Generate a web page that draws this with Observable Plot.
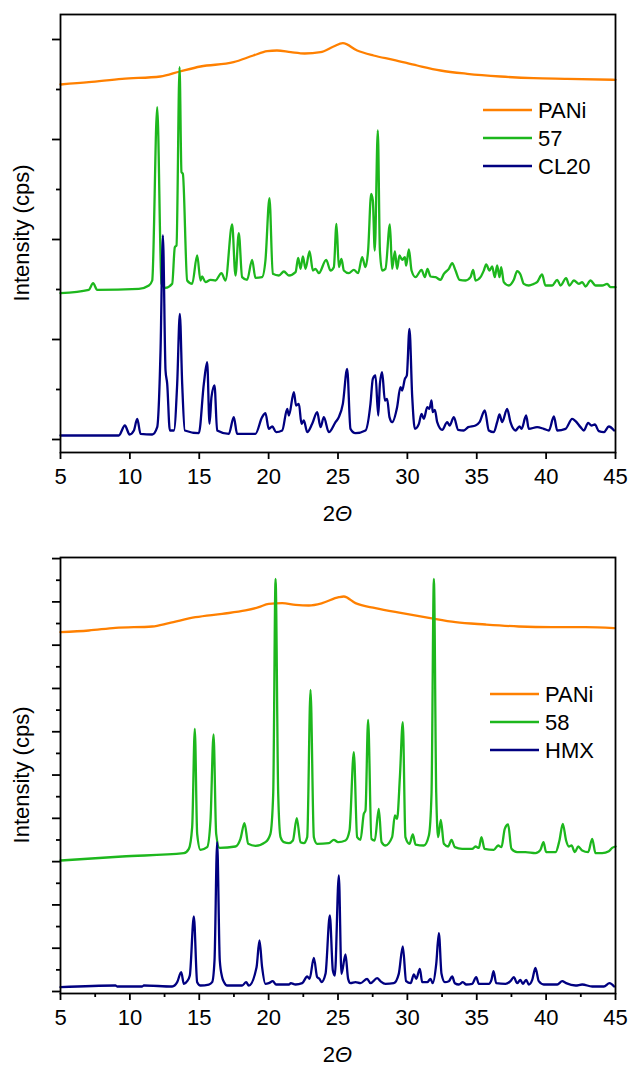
<!DOCTYPE html>
<html><head><meta charset="utf-8">
<script src="https://cdn.jsdelivr.net/npm/d3@7"></script>
<script src="https://cdn.jsdelivr.net/npm/@observablehq/plot@0.6"></script>
<style>html,body{margin:0;padding:0;background:#fff;} svg{display:block;}</style>
</head><body><div id="chart"></div>
<script>
// ---- shared axis values ----
const xTicks = [5, 10, 15, 20, 25, 30, 35, 40, 45];
const xMinorTicks2 = [7.5, 12.5, 17.5, 22.5, 27.5, 32.5, 37.5, 42.5];
const yMajor1 = [0, 2000, 4000, 6000, 8000];
const yMinor1 = [1000, 3000, 5000, 7000];
const yMajor2 = [0, 2000, 4000, 6000, 8000, 10000, 12000, 14000, 16000, 18000, 20000];
const yMinor2 = [1000, 3000, 5000, 7000, 9000, 11000, 13000, 15000, 17000, 19000];
const colors = ["#ff8000", "#1db71d", "#000080"];
const names1 = ["PANi", "57", "CL20"];
const names2 = ["PANi", "58", "HMX"];

// ---- panel 1 series: [2θ, intensity] ----
const pani1 = [[5.0,7100],[7.04,7146],[9.44,7214],[12.2,7260],[13.6,7360],[15.09,7460],[17.47,7546],[18.9,7680],[19.9,7766],[20.6,7780],[21.6,7746],[22.6,7720],[23.74,7746],[24.68,7860],[25.35,7926],[26.38,7780],[27.56,7680],[29.0,7594],[30.71,7480],[32.39,7380],[34.31,7314],[36.71,7260],[39.1,7226],[41.52,7214],[45.0,7194]];
const s57 = [[5.00,2927],[7.04,2993],[7.35,3127],[7.64,2993],[10.65,3013],[11.37,3080],[11.61,3180],[11.97,6647],[12.28,3113],[12.57,3033],[13.05,3113],[13.24,3847],[13.36,3880],[13.58,7447],[13.72,5347],[13.82,5313],[14.13,3180],[14.49,3113],[14.85,3680],[15.09,3180],[15.21,3260],[15.45,3147],[15.81,3193],[16.17,3180],[16.60,3327],[16.89,3180],[17.37,4300],[17.61,3280],[17.85,4127],[18.09,3247],[18.45,3193],[18.81,3593],[19.05,3233],[19.53,3247],[19.77,3580],[20.06,4827],[20.30,3313],[20.74,3280],[21.10,3360],[21.46,3280],[21.94,3347],[22.13,3633],[22.30,3413],[22.47,3660],[22.66,3413],[22.95,3760],[23.19,3380],[23.38,3413],[23.62,3327],[24.15,3593],[24.46,3380],[24.70,3447],[24.89,4313],[25.06,3447],[25.25,3613],[25.42,3380],[25.78,3327],[26.14,3393],[26.45,3327],[26.74,3647],[26.98,3447],[27.17,3780],[27.39,4913],[27.51,4780],[27.65,3780],[27.87,6180],[28.02,3780],[28.18,3380],[28.42,3413],[28.74,4300],[28.90,3413],[29.10,3760],[29.26,3413],[29.43,3680],[29.62,3593],[29.82,3647],[29.91,3480],[30.11,3800],[30.30,3380],[30.59,3247],[31.02,3393],[31.26,3247],[31.45,3413],[31.67,3260],[32.03,3247],[32.39,3193],[32.63,3313],[32.99,3413],[33.23,3527],[33.47,3380],[33.76,3193],[34.19,3180],[34.55,3247],[34.74,3393],[34.91,3180],[35.27,3247],[35.51,3380],[35.68,3500],[35.92,3380],[36.11,3460],[36.30,3247],[36.47,3480],[36.64,3247],[36.76,3447],[36.95,3147],[37.31,3080],[37.67,3193],[37.91,3367],[38.15,3300],[38.39,3113],[38.75,3080],[39.11,3113],[39.35,3147],[39.71,3300],[39.95,3080],[40.44,3080],[40.80,3193],[41.04,3080],[41.44,3227],[41.68,3080],[42.00,3180],[42.36,3113],[42.60,3147],[42.84,3060],[43.20,3180],[43.56,3080],[44.04,3080],[44.40,3113],[44.64,3047],[45.00,3047]];
const cl20 = [[5.00,80],[9.20,80],[9.64,280],[9.98,100],[10.29,180],[10.53,413],[10.77,113],[11.61,100],[11.97,247],[12.21,1780],[12.38,4080],[12.57,1380],[12.69,1113],[12.88,180],[13.17,180],[13.41,1113],[13.60,2513],[13.77,1113],[13.96,180],[14.97,127],[15.33,1113],[15.57,1547],[15.74,313],[15.88,847],[16.10,1080],[16.29,180],[17.13,113],[17.49,447],[17.73,113],[19.05,113],[19.53,447],[19.77,527],[20.01,213],[20.26,260],[20.54,147],[20.98,180],[21.34,613],[21.46,480],[21.82,947],[21.98,680],[22.18,713],[22.37,313],[22.54,380],[22.78,147],[23.14,313],[23.50,547],[23.74,247],[23.98,447],[24.34,147],[24.82,347],[25.06,447],[25.35,713],[25.66,1413],[25.90,213],[26.26,127],[26.98,180],[27.34,713],[27.51,1213],[27.70,1280],[27.90,480],[28.02,1113],[28.18,1347],[28.38,780],[28.54,813],[28.71,447],[28.90,347],[29.26,647],[29.50,1047],[29.62,980],[29.82,1213],[29.96,1280],[30.15,2213],[30.35,847],[30.54,213],[30.83,313],[31.02,513],[31.19,413],[31.43,647],[31.59,613],[31.74,780],[31.83,547],[31.98,593],[32.15,347],[32.51,193],[32.87,347],[33.04,280],[33.35,447],[33.66,193],[34.07,180],[34.38,247],[34.91,280],[35.20,347],[35.58,580],[35.87,180],[36.23,147],[36.47,347],[36.64,500],[36.83,347],[37.19,613],[37.43,347],[37.79,180],[38.08,260],[38.23,213],[38.56,480],[38.75,213],[39.35,247],[39.83,213],[40.20,180],[40.56,460],[40.80,180],[41.40,213],[41.88,413],[42.12,367],[42.48,247],[42.72,180],[43.03,333],[43.27,280],[43.51,300],[43.80,167],[44.16,147],[44.52,260],[44.90,180]];

// ---- panel 2 series ----
const pani2 = [[5.0,16601],[7.04,16678],[8.96,16801],[11.61,16863],[12.81,17017],[14.73,17294],[16.65,17448],[18.33,17602],[19.29,17756],[20.01,17910],[20.98,17941],[21.94,17864],[22.90,17833],[23.86,17941],[25.06,18218],[25.42,18249],[26.26,17941],[27.70,17710],[29.62,17479],[31.55,17263],[33.47,17063],[35.63,16955],[38.03,16863],[40.44,16832],[42.84,16832],[44.90,16786]];
const s58 = [[5.00,6052],[9.44,6237],[13.89,6391],[14.25,6591],[14.49,7592],[14.68,12135],[14.85,7284],[15.09,6545],[15.57,6668],[15.81,7900],[16.03,11873],[16.22,7284],[16.46,6637],[17.61,6699],[17.97,7053],[18.26,7777],[18.53,6822],[19.05,6730],[19.77,6899],[20.13,7284],[20.33,9132],[20.50,19065],[20.69,9132],[20.86,7130],[21.10,6899],[21.46,6853],[21.75,6976],[22.03,8008],[22.30,6899],[22.54,6853],[22.78,7130],[23.02,13937],[23.26,7130],[23.50,6822],[24.34,6853],[24.70,7007],[25.01,6899],[25.54,6976],[25.83,7438],[26.14,11057],[26.38,7130],[26.62,7007],[26.86,8208],[26.98,8362],[27.17,12551],[27.41,7053],[27.65,6976],[27.94,8439],[28.14,6899],[28.42,6745],[28.90,7130],[29.10,8131],[29.26,7977],[29.46,9902],[29.67,12443],[29.86,7130],[30.15,6822],[30.39,7253],[30.59,6791],[31.19,6745],[31.55,7207],[31.74,9132],[31.91,19065],[32.08,9132],[32.22,7130],[32.41,7931],[32.63,6822],[32.94,6699],[33.18,7007],[33.42,6668],[33.95,6591],[34.67,6591],[34.91,6699],[35.15,6637],[35.34,7130],[35.56,6591],[36.23,6545],[36.54,6745],[36.78,6668],[37.02,7515],[37.26,7715],[37.50,6591],[37.91,6437],[38.51,6437],[39.23,6391],[39.59,6545],[39.81,6899],[40.00,6437],[40.68,6437],[40.96,6976],[41.20,7746],[41.44,6976],[41.64,6699],[41.83,6745],[42.07,6437],[42.31,6699],[42.60,6514],[43.03,6437],[43.32,7053],[43.56,6391],[44.04,6391],[44.52,6483],[44.76,6637],[45.00,6699]];
const hmx = [[5.00,200],[8.96,277],[9.08,231],[10.89,231],[11.01,277],[13.05,231],[13.41,431],[13.70,893],[13.89,354],[14.13,477],[14.32,739],[14.61,3465],[14.85,431],[15.09,277],[15.69,323],[15.93,431],[16.10,1432],[16.29,6899],[16.48,1432],[16.65,662],[16.79,431],[17.01,277],[18.09,277],[18.38,431],[18.57,277],[19.13,1124],[19.34,2356],[19.53,1124],[19.77,354],[20.01,385],[20.30,477],[20.54,323],[21.46,323],[21.60,385],[21.94,323],[22.42,385],[22.78,693],[22.95,585],[23.26,1555],[23.50,662],[23.67,585],[23.81,431],[24.10,816],[24.41,3511],[24.63,970],[24.77,739],[25.06,5359],[25.25,816],[25.54,1709],[25.73,585],[25.90,385],[26.26,431],[26.62,385],[27.10,585],[27.34,385],[27.82,616],[28.06,477],[28.42,354],[29.02,385],[29.38,816],[29.67,2079],[29.91,477],[30.23,385],[30.47,785],[30.64,585],[30.90,1047],[31.07,431],[31.43,431],[31.67,585],[31.83,385],[32.08,1278],[32.27,2695],[32.46,816],[32.70,431],[32.99,477],[33.23,693],[33.42,385],[33.71,323],[34.00,431],[34.24,323],[34.67,354],[34.96,662],[35.15,354],[35.87,354],[36.06,539],[36.21,939],[36.40,385],[37.07,354],[37.43,477],[37.67,662],[37.91,385],[38.15,539],[38.32,354],[38.56,539],[38.75,323],[39.00,539],[39.23,1093],[39.47,477],[39.83,323],[40.80,323],[41.16,477],[41.44,385],[42.12,277],[42.60,323],[43.32,231],[44.16,231],[44.57,385],[44.90,231]];

const FONT = "'Liberation Sans', Arial, Helvetica, sans-serif";

function panel(o) {
  const marks = [
    Plot.axisY(o.yMajor, {tickSize: 8, tickFormat: () => "", label: null, strokeWidth: 1.8}),
    Plot.axisY(o.yMinor, {tickSize: 4, tickFormat: () => "", label: null, strokeWidth: 1.8}),
    Plot.axisX(xTicks, {tickSize: 7, tickPadding: 9, label: null, strokeWidth: 1.8})
  ];
  if (o.xMinor) marks.push(Plot.axisX(o.xMinor, {tickSize: 4, tickFormat: () => "", label: null, strokeWidth: 1.8}));
  o.series.forEach((s, i) => marks.push(Plot.line(s, {
    x: d => d[0], y: d => d[1], stroke: colors[i], strokeWidth: 2.3,
    curve: "monotone-x", strokeLinejoin: "round"
  })));
  marks.push(Plot.frame({stroke: "black", strokeWidth: 1.8}));
  const svg = Plot.plot({
    width: 630, height: o.height,
    marginTop: o.marginTop, marginBottom: o.marginBottom, marginLeft: 60, marginRight: 15,
    x: {domain: [5, 45]}, y: {domain: o.yDomain},
    style: {fontFamily: FONT, fontSize: "22px", color: "black", background: "white", overflow: "visible"},
    marks
  });
  const root = d3.select(svg);
  const fTop = o.marginTop, fBot = o.height - o.marginBottom;
  // y label
  root.append("text")
    .attr("transform", `translate(29,${(fTop + fBot) / 2}) rotate(-90)`)
    .attr("text-anchor", "middle").attr("font-family", FONT).attr("font-size", 22).attr("fill", "black")
    .text("Intensity (cps)");
  // x label 2Θ
  const xl = root.append("text")
    .attr("x", (60 + 615) / 2).attr("y", fBot + 69)
    .attr("text-anchor", "middle").attr("font-family", FONT).attr("font-size", 22).attr("fill", "black");
  xl.append("tspan").text("2");
  xl.append("tspan").attr("font-style", "italic").text("Θ");
  // legend
  const g = root.append("g").attr("font-family", FONT).attr("font-size", 22).attr("fill", "black")
    .attr("text-anchor", "start");
  o.names.forEach((n, i) => {
    const y = o.legendY + i * 28;
    g.append("line").attr("x1", o.legendX).attr("x2", o.legendX + 49).attr("y1", y).attr("y2", y)
      .attr("stroke", colors[i]).attr("stroke-width", 2.5);
    g.append("text").attr("x", o.legendX + 55).attr("y", y + 8).attr("text-anchor", "start").text(n);
  });
  return svg;
}

const chart = document.getElementById("chart");
chart.appendChild(panel({
  series: [pani1, s57, cl20], names: names1,
  height: 540, marginTop: 14, marginBottom: 88,
  yDomain: [-260, 8500], yMajor: yMajor1, yMinor: yMinor1, xMinor: null,
  legendX: 483, legendY: 110
}));
chart.appendChild(panel({
  series: [pani2, s58, hmx], names: names2,
  height: 525, marginTop: 17, marginBottom: 72,
  yDomain: [-92, 20050], yMajor: yMajor2, yMinor: yMinor2, xMinor: xMinorTicks2,
  legendX: 490, legendY: 154
}));
</script>
</body></html>
